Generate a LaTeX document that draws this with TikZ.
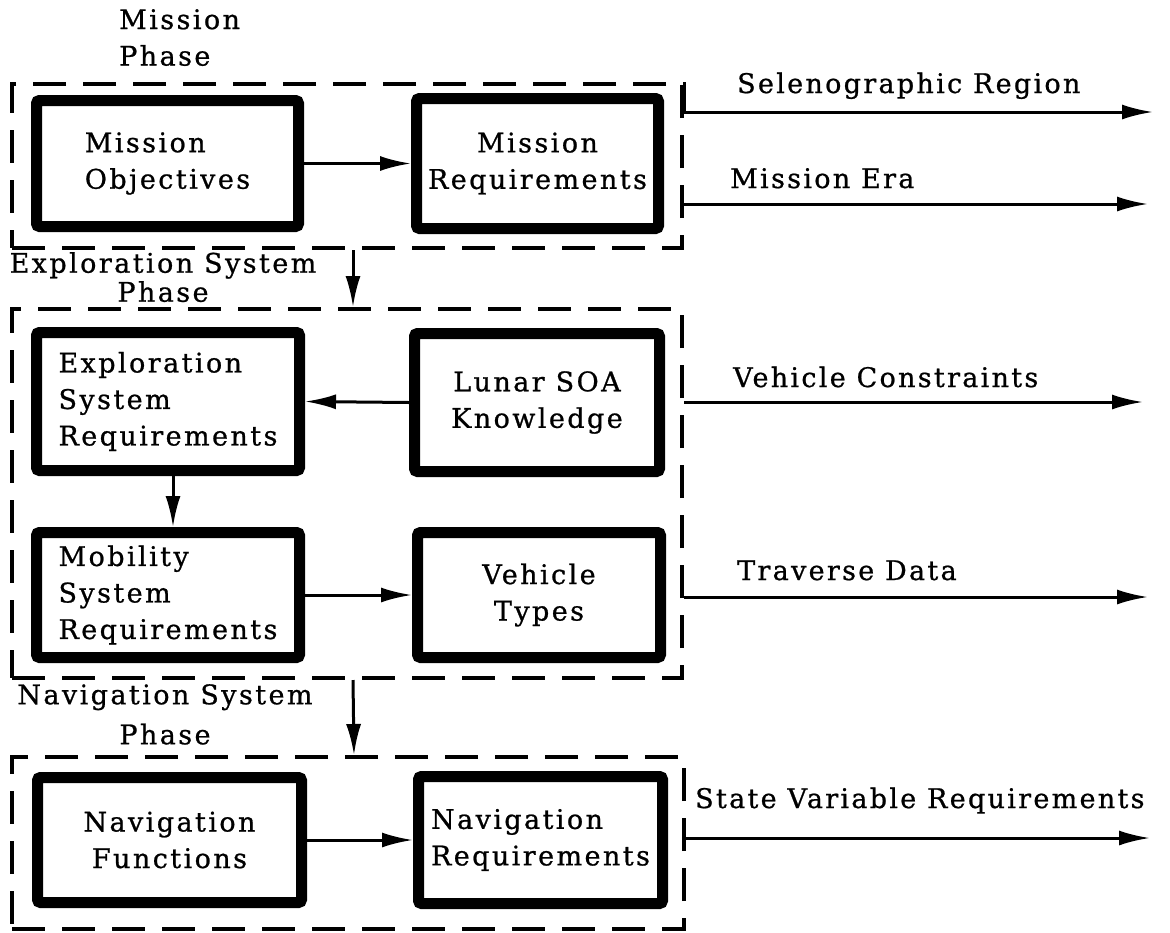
\documentclass[tikz,border=0pt]{standalone}
\usepackage{fontspec}
\setmainfont{DejaVu Serif}
\newfontfamily\twfont[LetterSpace=9,FakeBold=0.8]{DejaVu Serif}
\newfontfamily\twfontout[LetterSpace=8.5,FakeBold=0.8]{DejaVu Serif}
\usetikzlibrary{arrows.meta}
\tikzset{
  txt/.style={font=\twfont\fontsize{27pt}{36.5pt}\selectfont, inner sep=0pt},
  blk/.style={txt, draw, line width=11pt, rounded corners=3pt},
  phasebox/.style={draw, line width=4pt, dash pattern=on 33pt off 17pt, inner sep=0pt},
  conn/.style={line width=3pt, -{Latex[length=31pt,width=15pt]}},
  outlbl/.style={inner sep=0pt, anchor=base west, font=\twfontout\fontsize{27pt}{36.5pt}\selectfont},
}
\begin{document}
\begin{tikzpicture}[x=1pt,y=-1pt]
\useasboundingbox (0,0) rectangle (1170,932);
% phase boxes
\node[phasebox, minimum width=670pt, minimum height=164pt] (mphase) at (347,166) {};
\node[phasebox, minimum width=670pt, minimum height=369pt] (ephase) at (347,493.5) {};
\node[phasebox, minimum width=672pt, minimum height=172pt] (nphase) at (348,843) {};
% phase titles
\node[txt, anchor=north west, align=left] (mtitle) at (119,9) {Mission\\Phase};
\node[txt, anchor=north, align=center, font=\twfont\fontsize{27pt}{29pt}\selectfont] (etitle) at (163,252) {Exploration System\\Phase};
\node[txt, anchor=north, align=center, font=\twfont\fontsize{27pt}{40pt}\selectfont] (ntitle) at (165,684) {Navigation System\\Phase};
% blocks
\node[blk, minimum width=262pt, minimum height=126pt, align=left] (mo) at (167.5,163.5) {Mission\\Objectives};
\node[blk, minimum width=242pt, minimum height=130pt, align=center] (mr) at (537.5,163.5) {Mission\\Requirements};
\node[blk, minimum width=263pt, minimum height=138pt, align=left] (esr) at (168,401.5) {Exploration\\System\\Requirements};
\node[blk, minimum width=245pt, minimum height=138pt, align=center] (lsoa) at (537,402.5) {Lunar SOA\\Knowledge};
\node[blk, minimum width=263pt, minimum height=125pt, align=left] (msr) at (168,595) {Mobility\\System\\Requirements};
\node[blk, minimum width=243pt, minimum height=125pt, align=center] (vt) at (539,595) {Vehicle\\Types};
\node[blk, minimum width=264pt, minimum height=125pt, align=center] (nf) at (169.5,840) {Navigation\\Functions};
\node[blk, minimum width=244pt, minimum height=127pt, align=left] (nr) at (540.5,840) {Navigation\\Requirements};
% inner connectors
\draw[conn] (mo.east) -- (mr.west);
\draw[conn] (lsoa.west) -- (esr.east);
\draw[conn] ([xshift=5pt]esr.south) -- ([xshift=5pt]msr.north);
\draw[conn] (msr.east) -- (vt.west);
\draw[conn] (nf.east) -- (nr.west);
% phase connectors
\draw[conn] ([xshift=6pt]mphase.south) -- ([xshift=6pt]ephase.north);
\draw[conn] ([xshift=6pt]ephase.south) -- ([xshift=6pt]nphase.north);
% outputs
\coordinate (selend) at (1153,112);
\coordinate (eraend) at (1148,204);
\coordinate (vcend) at (1143,402);
\coordinate (tdend) at (1148,597);
\coordinate (svend) at (1150,838);
\draw[conn] (mphase.north east) |- (selend);
\draw[conn] (mphase.east |- eraend) -- (eraend);
\draw[conn] (ephase.east |- vcend) -- (vcend);
\draw[conn] (ephase.east |- tdend) -- (tdend);
\draw[conn] (nphase.east |- svend) -- (svend);
\node[outlbl] (sel) at (737,93) {Selenographic Region};
\node[outlbl] (era) at (730,188) {Mission Era};
\node[outlbl] (vc) at (733,387) {Vehicle Constraints};
\node[outlbl] (td) at (737,580) {Traverse Data};
\node[outlbl] (sv) at (695,808) {State Variable Requirements};
\end{tikzpicture}
\end{document}
